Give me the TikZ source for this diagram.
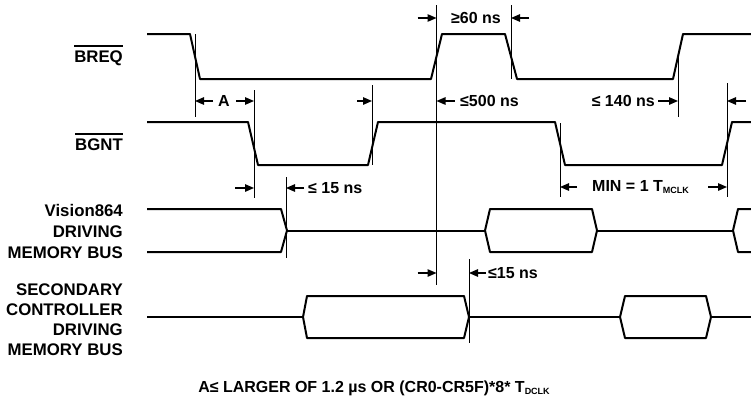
\documentclass[tikz,border=0pt]{standalone}
\usepackage{fontspec}
\setmainfont{Liberation Sans}
\usetikzlibrary{arrows.meta,calc}
\newcommand\olbar[1]{\setbox0=\hbox{#1}\rlap{\rule[15.5pt]{\wd0}{1.2pt}}\box0}
\newcommand\subsm[1]{\raisebox{-2.5pt}{\fontsize{9}{9}\selectfont #1}}
\begin{document}
\begin{tikzpicture}[x=1pt,y=-1pt,
  sig/.style={line width=2pt,line join=round},
  refl/.style={line width=0.9pt},
  dimarr/.style={line width=1.3pt,-{Triangle[length=9pt,width=7.5pt]}},
  lbl/.style={font=\fontsize{16}{20}\selectfont\bfseries,inner sep=0pt},
  sidelbl/.style={font=\fontsize{16.8}{20}\selectfont\bfseries,inner sep=0pt}]
\useasboundingbox (0,0) rectangle (751,399);
% labels
\node[sidelbl,anchor=base east] (breq) at (123,62) {\olbar{BREQ}};
\node[sidelbl,anchor=base east] (bgnt) at (123,150) {\olbar{BGNT}};
\node[sidelbl,anchor=east,align=right,font=\fontsize{16.8}{21}\selectfont\bfseries] (vis) at (123,231) {Vision864\\DRIVING\\MEMORY BUS};
\node[sidelbl,anchor=east,align=right] (sec) at (123,320) {SECONDARY\\CONTROLLER\\DRIVING\\MEMORY BUS};
% BREQ
\draw[sig] (147,34) -- (190,34) -- (200,79) -- (431,79) -- (442,34) -- (505,34) -- (517,79) -- (673,79) -- (683,34) -- (751,34);
% BGNT
\draw[sig] (147,122) -- (248,122) -- (258,165) -- (368,165) -- (378,122) -- (555,122) -- (565,165) -- (722,165) -- (732,122) -- (751,122);
% Vision864 bus
\draw[sig] (147,209) -- (281,209) -- (287,230.5) -- (281,252) -- (147,252);
\draw[sig] (287,230.5) -- (485,230.5);
\draw[sig] (485,230.5) -- (490,209) -- (592,209) -- (597,230.5) -- (592,252) -- (490,252) -- cycle;
\draw[sig] (597,230.5) -- (733,230.5);
\draw[sig] (751,209) -- (738,209) -- (733,230.5) -- (738,252) -- (751,252);
% Secondary bus
\draw[sig] (147,317) -- (303,317);
\draw[sig] (303,317) -- (307,296) -- (464,296) -- (469,317) -- (464,338) -- (307,338) -- cycle;
\draw[sig] (469,317) -- (620,317);
\draw[sig] (620,317) -- (625,296) -- (706,296) -- (711,317) -- (706,338) -- (625,338) -- cycle;
\draw[sig] (711,317) -- (751,317);
% reference lines
\coordinate (r1t) at (195,34);   \coordinate (r1b) at (195,117);
\coordinate (r2t) at (254,90);   \coordinate (r2b) at (254,198);
\coordinate (r3t) at (372,85);   \coordinate (r3b) at (372,165);
\coordinate (r4t) at (436.5,5);  \coordinate (r4b) at (436.5,285);
\coordinate (r5t) at (511,5);    \coordinate (r5b) at (511,79);
\coordinate (r6t) at (678,56);   \coordinate (r6b) at (678,117);
\coordinate (r7t) at (727,83);   \coordinate (r7b) at (727,197);
\coordinate (r8t) at (560,123);  \coordinate (r8b) at (560,197);
\coordinate (r9t) at (286,177);  \coordinate (r9b) at (286,258);
\coordinate (r10t) at (469,259); \coordinate (r10b) at (469,343);
\foreach \i in {1,...,10} {\draw[refl] (r\i t) -- (r\i b);}
% dimension arrow tips
\coordinate (d60a) at (436.5,18); \coordinate (d60b) at (511,18);
\coordinate (dAa) at (195,101);   \coordinate (dAb) at (254,101);
\coordinate (d500a) at (372,101); \coordinate (d500b) at (436.5,101);
\coordinate (d140a) at (678,101); \coordinate (d140b) at (727,101);
\coordinate (d15a) at (254,188);  \coordinate (d15b) at (286,188);
\coordinate (dMa) at (560,187);   \coordinate (dMb) at (727,187);
\coordinate (d15c) at (436.5,273);\coordinate (d15d) at (469,273);
\draw[dimarr] ($(d60a)+(-19,0)$) -- (d60a);
\draw[dimarr] ($(d60b)+(18,0)$) -- (d60b);
\draw[dimarr] ($(dAa)+(18,0)$) -- (dAa);
\draw[dimarr] ($(dAb)+(-18,0)$) -- (dAb);
\draw[dimarr] ($(d500a)+(-15,0)$) -- (d500a);
\draw[dimarr] ($(d500b)+(18,0)$) -- (d500b);
\draw[dimarr] ($(d140a)+(-20,0)$) -- (d140a);
\draw[dimarr] ($(d140b)+(19,0)$) -- (d140b);
\draw[dimarr] ($(d15a)+(-19,0)$) -- (d15a);
\draw[dimarr] ($(d15b)+(18,0)$) -- (d15b);
\draw[dimarr] ($(dMa)+(17,0)$) -- (dMa);
\draw[dimarr] ($(dMb)+(-19,0)$) -- (dMb);
\draw[dimarr] ($(d15c)+(-19,0)$) -- (d15c);
\draw[dimarr] ($(d15d)+(17,0)$) -- (d15d);
% dimension texts
\node[lbl] (t60) at (476,18) {≥60 ns};
\node[lbl] (tA) at (224,101) {A};
\node[lbl,anchor=west] (t500) at (460,101) {≤500 ns};
\node[lbl,anchor=east] (t140) at (655,101) {≤ 140 ns};
\node[lbl,anchor=west] (t15a) at (308,188) {≤ 15 ns};
\node[lbl,anchor=west] (tmin) at (592,187) {MIN = 1 T\subsm{MCLK}};
\node[lbl,anchor=west] (t15b) at (488,273) {≤15 ns};
\node[lbl,anchor=base] (note) at (374,392) {A≤ LARGER OF 1.2 µs OR (CR0-CR5F)*8* T\subsm{DCLK}};
\end{tikzpicture}
\end{document}
